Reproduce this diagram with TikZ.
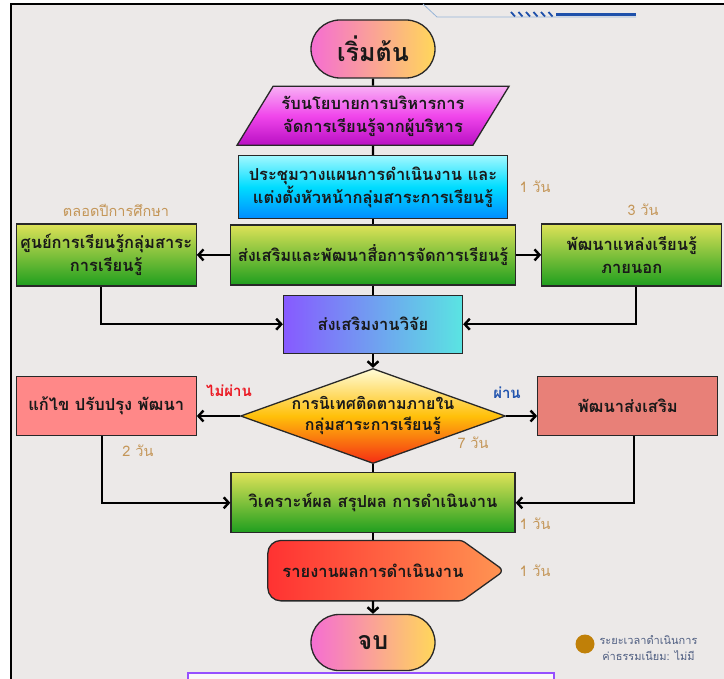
\documentclass[tikz,border=0pt]{standalone}
\usepackage{fontspec}
\setmainfont[Script=Thai]{Loma}
\usetikzlibrary{positioning,shapes.geometric,shapes.misc,arrows.meta,backgrounds}

\definecolor{paper}{RGB}{236,233,232}
\definecolor{edgegray}{RGB}{40,40,40}
\definecolor{daytan}{RGB}{196,150,88}
\definecolor{termpink}{RGB}{245,110,210}
\definecolor{termyellow}{RGB}{255,215,90}
\definecolor{greentop}{RGB}{222,226,88}
\definecolor{greenbot}{RGB}{30,158,30}
\definecolor{cyantop}{RGB}{160,248,255}
\definecolor{cyanmid}{RGB}{0,220,255}
\definecolor{cyanbot}{RGB}{0,140,255}
\definecolor{magtop}{RGB}{248,175,245}
\definecolor{magmid}{RGB}{240,70,235}
\definecolor{magbot}{RGB}{185,15,195}
\definecolor{violet}{RGB}{135,90,255}
\definecolor{aqua}{RGB}{90,228,226}
\definecolor{paleyellow}{RGB}{255,252,215}
\definecolor{gold}{RGB}{255,192,10}
\definecolor{hotred}{RGB}{245,45,20}
\definecolor{fixred}{RGB}{255,136,136}
\definecolor{supportred}{RGB}{232,128,120}
\definecolor{reportred}{RGB}{255,50,50}
\definecolor{reportorange}{RGB}{255,148,82}
\definecolor{failred}{RGB}{235,25,35}
\definecolor{passblue}{RGB}{35,85,175}
\definecolor{legendgold}{RGB}{192,128,8}
\definecolor{legendtext}{RGB}{80,95,130}
\definecolor{decoblue}{RGB}{30,80,170}
\definecolor{decolight}{RGB}{150,180,215}
\definecolor{purpleline}{RGB}{150,80,255}

\tikzset{
  box/.style={draw=edgegray, line width=1.3pt, align=center, inner sep=2pt,
    text=black!90, font=\bfseries\fontsize{16.5}{23}\selectfont},
  terminal/.style={box, rounded rectangle, minimum width=128pt, minimum height=58pt,
    left color=termpink, right color=termyellow,
    font=\bfseries\fontsize{25}{28}\selectfont},
  inputbox/.style={box, trapezium, trapezium left angle=51, trapezium right angle=129,
    trapezium stretches body, minimum width=272pt, minimum height=59pt,
    top color=magtop, bottom color=magbot, middle color=magmid},
  planbox/.style={box, minimum width=269pt, minimum height=63pt,
    top color=cyantop, bottom color=cyanbot, middle color=cyanmid},
  greenbox/.style={box, minimum height=60pt, top color=greentop, bottom color=greenbot},
  researchbox/.style={box, minimum width=179pt, minimum height=58pt,
    left color=violet, right color=aqua},
  decision/.style={diamond, draw=edgegray, line width=1.3pt, inner sep=0pt,
    minimum width=265pt, minimum height=95pt,
    top color=paleyellow, bottom color=hotred, middle color=gold},
  redbox/.style={box, minimum width=180pt, minimum height=59pt},
  reportbox/.style={align=center, inner sep=2pt, minimum width=236pt, minimum height=60pt,
    text=black!90, font=\bfseries\fontsize{16.5}{23}\selectfont},
  link/.style={line width=2.4pt},
  flow/.style={line width=2.4pt, -{Straight Barb[length=5pt,width=11pt]}},
  days/.style={text=daytan, font=\fontsize{14.5}{16}\selectfont},
}

\begin{document}
\begin{tikzpicture}[x=1pt, y=-1pt]
  \useasboundingbox (0,0) rectangle (724,679);

  % Paper and frame
  \begin{scope}[on background layer]
    \fill[white] (0,0) rectangle (724,679);
    \fill[paper] (11,4) rectangle (724,679);
    \draw[line width=2pt] (11,679) -- (11,4) -- (724,4);
  \end{scope}
  \draw[decolight, line width=0.8pt] (423,4) -- (437,17) -- (636,17);
  \foreach \k in {0,...,5}
    \draw[decoblue, line width=1.8pt] (511+7.5*\k,12) -- (515+7.5*\k,16.5);
  \draw[decoblue, line width=3pt] (556,14.5) -- (636,14.5);

  % Define nodes
  \node[terminal]                                (start)    at (373,49) {เริ่มต้น};
  \node[inputbox, below=7pt of start]            (policy)   {รับนโยบายการบริหารการ\\จัดการเรียนรู้จากผู้บริหาร};
  \node[planbox, below=9pt of policy]            (plan)     {ประชุมวางแผนการดำเนินงาน และ\\แต่งตั้งหัวหน้ากลุ่มสาระการเรียนรู้};
  \node[greenbox, minimum width=285pt, below=5pt of plan] (media) {ส่งเสริมและพัฒนาสื่อการจัดการเรียนรู้};
  \node[greenbox, minimum width=180pt, minimum height=62pt, left=33pt of media]  (learn)   {ศูนย์การเรียนรู้กลุ่มสาระ\\การเรียนรู้};
  \node[greenbox, minimum width=180pt, minimum height=62pt, right=25pt of media] (outside) {พัฒนาแหล่งเรียนรู้\\ภายนอก};
  \node[researchbox, below=9pt of media]         (research) {ส่งเสริมงานวิจัย};
  \node[decision, below=14pt of research]        (check)    {};
  \node[align=center, text=black!90, font=\bfseries\fontsize{16}{21}\selectfont]
                                                 (checktext) at (check) {การนิเทศติดตามภายใน\\กลุ่มสาระการเรียนรู้};
  \node[redbox, fill=fixred, left=43pt of check, yshift=10pt]      (fix)     {แก้ไข ปรับปรุง พัฒนา};
  \node[redbox, fill=supportred, right=31pt of check, yshift=10pt] (support) {พัฒนาส่งเสริม};
  \node[greenbox, minimum width=284pt, below=8pt of check] (analyse) {วิเคราะห์ผล สรุปผล การดำเนินงาน};
  \node[reportbox, below=7pt of analyse]         (report)   {รายงานผลการดำเนินงาน};
  \node[terminal, minimum height=56pt, below=13pt of report] (finish) {จบ};

  % Report shape
  \begin{scope}[on background layer]
    \draw[edgegray, line width=1.3pt, left color=reportred, right color=reportorange]
      ([xshift=13pt]report.west) [rounded corners=13pt] -- ([xshift=13pt]report.north west)
      [rounded corners=3pt] -- ([xshift=-29pt]report.north east)
      [rounded corners=6pt] -- ([xshift=13pt]report.east)
      [rounded corners=3pt] -- ([xshift=-29pt]report.south east)
      [rounded corners=13pt] -- ([xshift=13pt]report.south west) -- cycle;
  \end{scope}

  % Time labels
  \node[days] (d-plan)    at (535,187) {1 วัน};
  \node[days] (d-year)    at (116,210) {ตลอดปีการศึกษา};
  \node[days] (d-outside) at (643,210) {3 วัน};
  \node[days] (d-check)   at (473,443) {7 วัน};
  \node[days] (d-fix)     at (138,451) {2 วัน};
  \node[days] (d-analyse) at (535,524) {1 วัน};
  \node[days] (d-report)  at (535,571) {1 วัน};
  \node[text=failred, font=\bfseries\fontsize{15}{16}\selectfont] (fail) at (229,391) {ไม่ผ่าน};
  \node[text=passblue, font=\bfseries\fontsize{15}{16}\selectfont] (pass) at (507,393) {ผ่าน};

  % Connect the nodes
  \draw[link] (start) -- (policy);
  \draw[link] (policy) -- (plan);
  \draw[link] (plan) -- (media);
  \draw[link] (media) -- (research);
  \draw[flow] (media) -- (learn);
  \draw[flow] (media) -- (outside);
  \draw[flow] ([xshift=-5pt]learn.south) |- (research);
  \draw[flow] ([xshift=4pt]outside.south) |- (research);
  \draw[flow] (research) -- (check);
  \draw[flow] (check) -- (check -| fix.east);
  \draw[flow] (check) -- (check -| support.west);
  \draw[link] (check) -- (analyse);
  \draw[flow] ([xshift=-4pt]fix.south) |- (analyse);
  \draw[flow] ([xshift=6pt]support.south) |- (analyse);
  \draw[link] (analyse) -- (report);
  \draw[flow] (report) -- (finish);

  % Legend
  \node[circle, fill=legendgold, minimum size=19pt, inner sep=0pt] (dot) at (585,644) {};
  \node[anchor=west, align=center, text=legendtext, font=\fontsize{11}{16}\selectfont]
    (legend) at (596,648) {ระยะเวลาดำเนินการ\\ค่าธรรมเนียม: ไม่มี};
  \draw[purpleline, line width=2pt, fill=white!70!paper] (188,673) rectangle (554,700);

\end{tikzpicture}
\end{document}
